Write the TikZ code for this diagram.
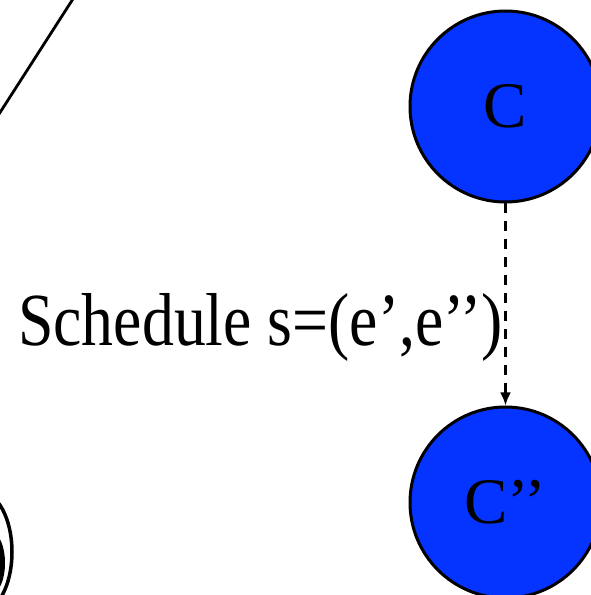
\documentclass[tikz,border=0pt]{standalone}
\usepackage{fontspec}
\setmainfont{Liberation Serif}
\newfontfamily\labelfont[FakeStretch=0.85]{Liberation Serif}
\usetikzlibrary{arrows.meta, positioning}
\definecolor{stateblue}{RGB}{5,51,255}
\tikzset{
  state/.style={circle, draw=black, line width=3pt, fill=stateblue, minimum size=191pt, inner sep=0pt, font=\fontsize{65}{67}\selectfont},
  sched/.style={dash pattern=on 10pt off 8pt, line width=2.5pt, -{Latex[length=13pt,width=11pt]}}
}

\begin{document}
\begin{tikzpicture}[x=1pt, y=1pt]
                \useasboundingbox (0,0) rectangle (591,595);
                \clip (0,0) rectangle (591,595);
                
                % Leftover strokes at the left edge
                \draw[line width=2.8pt] (80,607) -- (-8,470);
                \draw[line width=3.5pt] (-20,43) ellipse [x radius=32, y radius=60];
                \fill (-8,32) ellipse [x radius=13, y radius=30];
                
                % States
                \node[state] (c) at (505.5,488.5) {C};
                \node[state] (cpp) at (505.5,92.5) {C’’};
                
                % Schedule edge
                \draw[sched] (c) -- (cpp);
                \node[anchor=base west, inner sep=0pt, font=\labelfont\fontsize{75}{78}\selectfont] (label) at (18,249) {Schedule s=(e’,e’’)};
\end{tikzpicture}
\end{document}
